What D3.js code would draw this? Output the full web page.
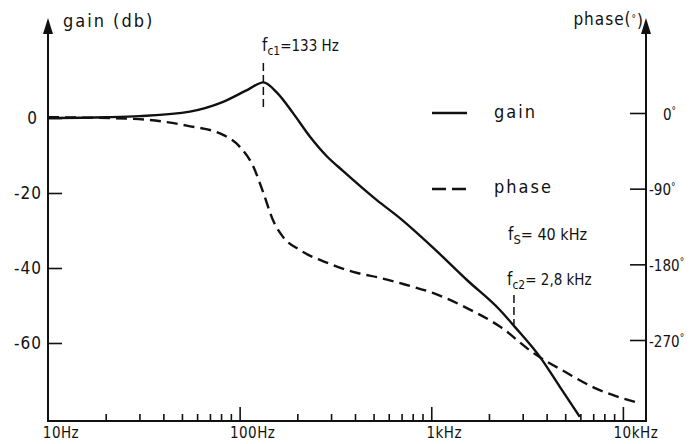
<!DOCTYPE html>
<meta charset="utf-8">
<head>
  <title>Gain / phase response</title>
  <style>
    body { margin: 0; background: #fff; }
    svg text { font-family: "DejaVu Sans Condensed", "DejaVu Sans", sans-serif; fill: #111; }
  </style>
</head>
<body>
  <svg id="viz" width="691" height="444"></svg>
  <script src="https://d3js.org/d3.v7.min.js"></script>
  <script>
    // frequency response (Hz, dB)
    var gainFreq = [10, 20, 30, 55, 82, 110, 133, 157, 190, 233, 285, 346, 520, 686, 1018, 1535, 2281, 2730, 3690, 4690, 5960];
    var gainDb = [0, 0.2, 0.5, 1.7, 4.3, 7.5, 9.5, 6.7, 1.3, -5, -10.2, -14.1, -21.9, -26.7, -34.5, -43.2, -51.2, -55.7, -63.7, -71.7, -79.7];

    // phase (Hz, degrees)
    var phaseFreq = [10, 28, 53, 82, 100, 118, 133, 149, 168, 206, 285, 407, 538, 728, 1018, 1535, 2281, 3390, 5090, 6970, 11700];
    var phaseDeg = [-5, -7, -15, -26, -40, -64, -95, -127, -147, -163, -178, -190, -196, -204, -214, -232, -254, -285, -309, -326, -344];

    var gainTicks = [0, -20, -40, -60];
    var phaseTicks = [0, -90, -180, -270];
    var phaseTickLabels = ["0", "-90", "-180", "-270"];
    var decades = [10, 100, 1000, 10000];
    var decadeLabels = ["10Hz", "100Hz", "1kHz", "10kHz"];
    var markers = [
      { f: 133, label: "c1", value: "=133 Hz" },
      { f: 2800, label: "c2", value: "= 2,8 kHz" }
    ];

    var svg = d3.select("#viz");
    var left = 48, right = 646, bottom = 421;

    var x = d3.scaleLog().domain([10, 13200]).range([left, right]);
    var yGain = d3.scaleLinear().domain([0, -60]).range([118, 343]);
    var yPhase = d3.scaleLinear().domain([0, -270]).range([113, 340]);

    var minorTicks = [];
    decades.forEach(function (d) {
      for (var k = 2; k <= 9; k++) {
        if (d * k < 13200) minorTicks.push(d * k);
      }
    });

    // frame lines + arrows
    svg.append("line").attr("x1", left).attr("x2", left).attr("y1", 30).attr("y2", bottom)
      .attr("stroke", "#111").attr("stroke-width", 2);
    svg.append("line").attr("x1", right).attr("x2", right).attr("y1", 30).attr("y2", bottom)
      .attr("stroke", "#111").attr("stroke-width", 2);
    svg.append("line").attr("x1", left - 1).attr("x2", right + 1).attr("y1", bottom).attr("y2", bottom)
      .attr("stroke", "#111").attr("stroke-width", 2);
    [left, right].forEach(function (ax) {
      svg.append("path")
        .attr("d", "M" + ax + ",18L" + (ax - 5) + ",34L" + (ax + 5) + ",34Z")
        .attr("fill", "#111");
    });

    // bottom ticks (pointing up)
    var minorAxis = svg.append("g").attr("transform", "translate(0," + bottom + ")")
      .call(d3.axisBottom(x).tickValues(minorTicks).tickSize(-7).tickFormat(""));
    var majorAxis = svg.append("g").attr("transform", "translate(0," + bottom + ")")
      .call(d3.axisBottom(x).tickValues(decades).tickSize(-14).tickFormat(""));
    [minorAxis, majorAxis].forEach(function (g) {
      g.select(".domain").remove();
      g.selectAll(".tick line").attr("stroke", "#111").attr("stroke-width", 1.6);
    });
    majorAxis.selectAll(".tick").filter(function (d) { return d === 10; }).remove();

    svg.append("g").selectAll("text")
      .data(decades)
      .join("text")
      .attr("x", (d, i) => x(d) + 13)
      .attr("y", 438)
      .attr("text-anchor", "middle")
      .attr("font-size", 15)
      .attr("letter-spacing", 0.5)
      .text((d, i) => decadeLabels[i]);

    // left gain axis
    var gAxis = svg.append("g").attr("transform", "translate(" + left + ",0)")
      .call(d3.axisLeft(yGain).tickValues(gainTicks).tickSize(-14).tickPadding(6)
        .tickFormat(d => d === 0 ? "0" : "-" + Math.abs(d)));
    gAxis.select(".domain").remove();
    gAxis.selectAll(".tick line").attr("stroke", "#111").attr("stroke-width", 1.6);
    gAxis.selectAll(".tick text").attr("font-size", 17).attr("fill", "#111")
      .attr("letter-spacing", 1)
      .attr("dx", d => d === 0 ? -4 : 0);

    // right phase axis
    var pAxis = svg.append("g").attr("transform", "translate(" + right + ",0)")
      .call(d3.axisRight(yPhase).tickValues(phaseTicks).tickSize(-16).tickPadding(4)
        .tickFormat(""));
    pAxis.select(".domain").remove();
    pAxis.selectAll(".tick line").attr("stroke", "#111").attr("stroke-width", 1.6);
    pAxis.selectAll(".tick").append("text")
      .attr("x", (d, i) => i === 0 ? 17 : 3)
      .attr("dy", "0.4em")
      .attr("font-size", 15)
      .attr("fill", "#111")
      .attr("text-anchor", "start")
      .each(function (d, i) {
        var t = d3.select(this);
        t.append("tspan").text(phaseTickLabels[i]);
        t.append("tspan").attr("dy", "-0.55em").attr("font-size", 10).text("°");
      });

    // axis titles
    svg.append("text").attr("x", 63).attr("y", 27).attr("font-size", 18)
      .attr("letter-spacing", 2).text("gain (db)");
    var pt = svg.append("text").attr("x", 644).attr("y", 25).attr("font-size", 17)
      .attr("letter-spacing", 1).attr("text-anchor", "end");
    pt.append("tspan").text("phase(");
    pt.append("tspan").attr("dy", "-0.35em").attr("font-size", 10).text("°");
    pt.append("tspan").attr("dy", "0.35em").text(")");

    // curves
    var gainData = gainFreq.map((f, i) => ({ f: f, v: gainDb[i] }));
    var phaseData = phaseFreq.map((f, i) => ({ f: f, v: phaseDeg[i] }));

    var gainLine = d3.line().x(d => x(d.f)).y(d => yGain(d.v)).curve(d3.curveMonotoneX);
    var phaseLine = d3.line().x(d => x(d.f)).y(d => yPhase(d.v)).curve(d3.curveMonotoneX);

    svg.append("path").datum(phaseData)
      .attr("d", phaseLine)
      .attr("fill", "none").attr("stroke", "#111").attr("stroke-width", 2.4)
      .attr("stroke-dasharray", "11 6");
    svg.append("path").datum(gainData)
      .attr("d", gainLine)
      .attr("fill", "none").attr("stroke", "#111").attr("stroke-width", 2.4);

    // corner-frequency markers
    var mk = [
      { f: markers[0].f, y1: 63, y2: 107, tx: 262, ty: 51 },
      { f: markers[1].f, y1: 295, y2: 328, tx: 507, ty: 285 }
    ];
    mk.forEach(function (m, i) {
      svg.append("line").attr("x1", x(m.f) - 3 * i).attr("x2", x(m.f) - 3 * i)
        .attr("y1", m.y1).attr("y2", m.y2)
        .attr("stroke", "#111").attr("stroke-width", 1.5).attr("stroke-dasharray", "8 4");
      var t = svg.append("text").attr("x", m.tx).attr("y", m.ty).attr("font-size", 17);
      t.append("tspan").text("f");
      t.append("tspan").attr("dy", 4).attr("font-size", 12).text(markers[i].label);
      t.append("tspan").attr("dy", -4).attr("font-size", 15).text(markers[i].value);
    });

    var fs = svg.append("text").attr("x", 508).attr("y", 240).attr("font-size", 17);
    fs.append("tspan").text("f");
    fs.append("tspan").attr("dy", 4).attr("font-size", 13).text("S");
    fs.append("tspan").attr("dy", -4).attr("font-size", 16).text("= 40 kHz");

    // legend
    svg.append("line").attr("x1", 432).attr("x2", 467).attr("y1", 113).attr("y2", 113)
      .attr("stroke", "#111").attr("stroke-width", 2.4);
    svg.append("text").attr("x", 494).attr("y", 118).attr("font-size", 18)
      .attr("letter-spacing", 2).text("gain");
    svg.append("line").attr("x1", 432).attr("x2", 467).attr("y1", 189).attr("y2", 189)
      .attr("stroke", "#111").attr("stroke-width", 2.4).attr("stroke-dasharray", "14 6");
    svg.append("text").attr("x", 494).attr("y", 193).attr("font-size", 18)
      .attr("letter-spacing", 2).text("phase");
  </script>
</body>
